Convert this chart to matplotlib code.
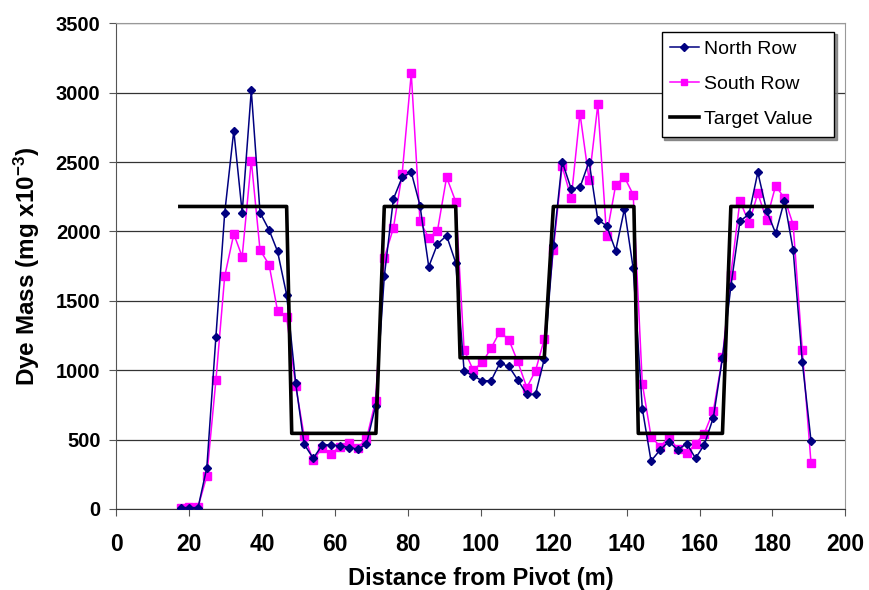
import matplotlib
matplotlib.use("Agg")
import matplotlib.pyplot as plt

plt.rcParams['font.family'] = ['Liberation Sans', 'DejaVu Sans']
plt.rcParams['mathtext.fontset'] = 'custom'
plt.rcParams['mathtext.rm'] = 'Liberation Sans:bold'
plt.rcParams['mathtext.default'] = 'rm'

# distance of each catch can from the pivot (m)
distance = [17.6, 20.0, 22.4, 24.8, 27.3, 29.7, 32.2, 34.5, 37.0, 39.4,
            41.9, 44.2, 46.7, 49.2, 51.5, 54.0, 56.5, 58.9, 61.3, 63.8,
            66.2, 68.6, 71.1, 73.5, 76.0, 78.4, 80.9, 83.3, 85.7, 88.1,
            90.6, 93.1, 95.4, 97.9, 100.4, 102.8, 105.2, 107.7, 110.1, 112.6,
            115.0, 117.4, 119.9, 122.3, 124.8, 127.2, 129.7, 132.1, 134.5, 137.0,
            139.4, 141.8, 144.3, 146.7, 149.2, 151.6, 154.0, 156.5, 158.9, 161.3,
            163.8, 166.3, 168.6, 171.1, 173.6, 176.0, 178.4, 180.9, 183.3, 185.7,
            188.2, 190.6]

north_row = [10, 10, 10, 298, 1243, 2131, 2727, 2136, 3016, 2136,
             2010, 1857, 1544, 905, 467, 365, 462, 462, 455, 443,
             431, 467, 743, 1676, 2234, 2391, 2427, 2186, 1746, 1910,
             1970, 1775, 996, 960, 924, 924, 1051, 1027, 931, 827,
             827, 1080, 1905, 2504, 2306, 2318, 2504, 2083, 2042, 1862,
             2162, 1734, 724, 346, 426, 486, 426, 471, 366, 462,
             659, 1090, 1604, 2073, 2126, 2427, 2150, 1987, 2222, 1866,
             1061, 491]

south_row = [10, 15, 15, 238, 930, 1676, 1982, 1818, 2511, 1866,
             1760, 1428, 1380, 885, 527, 350, 443, 399, 447, 479,
             443, 503, 779, 1809, 2025, 2415, 3139, 2073, 1953, 2006,
             2391, 2215, 1147, 1001, 1056, 1159, 1277, 1219, 1063, 875,
             996, 1224, 1869, 2470, 2239, 2850, 2371, 2915, 1970, 2335,
             2391, 2266, 904, 522, 450, 515, 435, 406, 467, 544,
             707, 1092, 1688, 2222, 2059, 2275, 2085, 2330, 2239, 2049,
             1145, 330]

# target step profile
target_x = [17.4, 46.7, 48.1, 71.2, 73.5, 93.1, 94.3, 117.4, 119.9,
            142.0, 143.2, 166.3, 168.6, 190.9]
target_y = [2180, 2180, 545, 545, 2180, 2180, 1090, 1090, 2180,
            2180, 545, 545, 2180, 2180]

fig = plt.figure(figsize=(8.69, 5.9), dpi=100)
ax = fig.add_axes([0.134, 0.1373, 0.8387, 0.8232])

ax.plot(distance, north_row, color='#000080', lw=1.1, marker='D', ms=4.5,
        label='North Row', zorder=3)
ax.plot(distance, south_row, color='#FF00FF', lw=1.1, marker='s', ms=5.3,
        label='South Row', zorder=2)
ax.plot(target_x, target_y, color='black', lw=2.6, label='Target Value', zorder=4)

ax.set_xlim(0, 200)
ax.set_ylim(0, 3500)
ax.set_xticks(range(0, 201, 20))
ax.set_yticks(range(0, 3501, 500))
ax.yaxis.grid(True, color='#333333', lw=0.9)
ax.set_axisbelow(True)

for s in ['top', 'right']:
    ax.spines[s].set_color('#999999')
ax.spines['left'].set_color('#555555')
ax.spines['bottom'].set_color('#333333')
ax.tick_params(direction='out', length=5, color='#555555')
ax.tick_params(axis='x', labelsize=16.5, pad=12)
ax.tick_params(axis='y', labelsize=14.5, pad=6.5)
for lab in ax.get_xticklabels() + ax.get_yticklabels():
    lab.set_fontweight('bold')

ax.set_xlabel('Distance from Pivot (m)', fontsize=17, fontweight='bold', labelpad=8)
ax.set_ylabel(r'Dye Mass (mg x10$^{-3}$)', fontsize=17.5, fontweight='bold', labelpad=10)

leg = ax.legend(loc='upper right', bbox_to_anchor=(0.748, 0.5, 0.2365, 0.4827),
                mode='expand', borderaxespad=0, fontsize=14,
                fancybox=False, shadow={'color': '#777777', 'alpha': 0.8},
                framealpha=1, edgecolor='black',
                handlelength=1.45, handletextpad=0.3, borderpad=0.45,
                labelspacing=0.9, markerscale=0.8)
leg.get_frame().set_linewidth(1.0)

fig.savefig('out.png', dpi=100)
